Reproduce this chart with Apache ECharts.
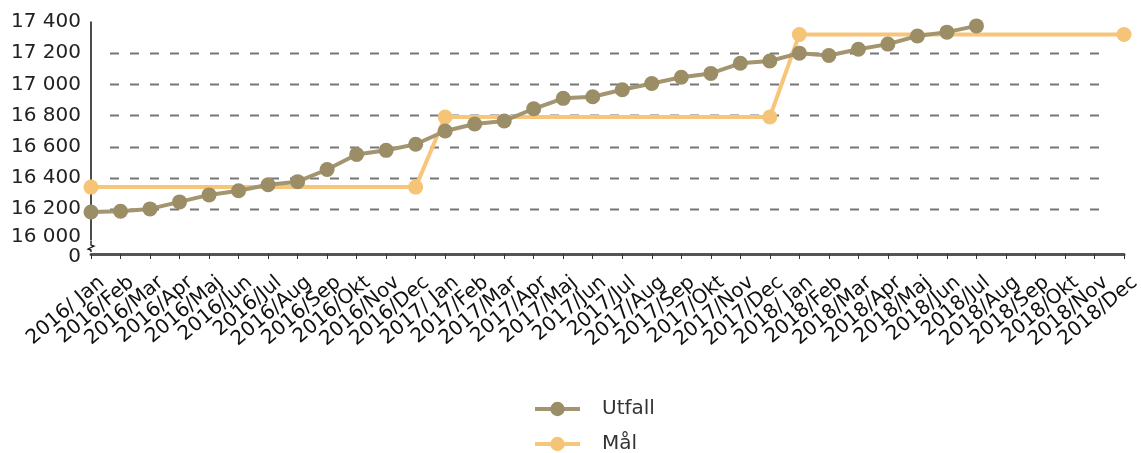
<!DOCTYPE html>
<html>
<head>
<meta charset="utf-8">
<script src="https://cdn.jsdelivr.net/npm/echarts@6/dist/echarts.min.js"></script>
<style>
html,body{margin:0;padding:0;background:#fff;}
#chart{width:1141px;height:453px;}
</style>
</head>
<body>
<div id="chart"></div>
<script>
var categories = [
  "2016/ Jan","2016/Feb","2016/Mar","2016/Apr","2016/Maj","2016/Jun","2016/Jul","2016/Aug","2016/Sep","2016/Okt","2016/Nov","2016/Dec",
  "2017/ Jan","2017/Feb","2017/Mar","2017/Apr","2017/Maj","2017/Jun","2017/Jul","2017/Aug","2017/Sep","2017/Okt","2017/Nov","2017/Dec",
  "2018/ Jan","2018/Feb","2018/Mar","2018/Apr","2018/Maj","2018/Jun","2018/Jul","2018/Aug","2018/Sep","2018/Okt","2018/Nov","2018/Dec"
];
var utfall = [
  16180,16185,16200,16245,16290,16317,16355,16375,16453,16550,16576,16615,
  16700,16745,16765,16843,16910,16920,16965,17005,17045,17070,17135,17150,
  17200,17185,17225,17258,17310,17335,17375,null,null,null,null,null
];
var mal = [
  16340,16340,16340,16340,16340,16340,16340,16340,16340,16340,16340,16340,
  16790,16790,16790,16790,16790,16790,16790,16790,16790,16790,16790,16790,
  17320,17320,17320,17320,17320,17320,17320,17320,17320,17320,17320,17320
];
var malMarkerIdx = [0,11,12,23,24,35];
var seriesNames = ["Utfall","Mål"];
var axisBreak = {start:0, end:16000};
var gridValues = [16200,16400,16600,16800,17000,17200];

var malData = mal.map(function(v,i){
  return malMarkerIdx.indexOf(i) >= 0 ? {value:v} : {value:v, symbol:'none'};
});

var chart = echarts.init(document.getElementById('chart'));
var font = 'DejaVu Sans';
var legendCommon = {
  orient:'vertical', left:533, padding:0,
  itemWidth:45, itemHeight:18,
  lineStyle:{width:4},
  textStyle:{fontSize:20,lineHeight:20,color:'#333',fontFamily:font,padding:[0,0,0,17]}
};
chart.setOption({
  animation:false,
  textStyle:{fontFamily:font},
  grid:{left:91,right:17,top:22,bottom:199,containLabel:false,outerBoundsMode:'none'},
  legend:[
    Object.assign({}, legendCommon, {top:399, data:[seriesNames[0]]}),
    Object.assign({}, legendCommon, {top:434, data:[seriesNames[1]]})
  ],
  xAxis:{
    type:'category',
    data:categories,
    boundaryGap:false,
    axisLine:{lineStyle:{color:'#555',width:3}},
    axisTick:{show:true,length:5,lineStyle:{color:'#333',width:1}},
    axisLabel:{rotate:40,fontSize:20,color:'#111',margin:13,fontFamily:font,interval:0,
      verticalAlign:'top',lineHeight:34},
    splitLine:{show:false}
  },
  yAxis:{
    type:'value',
    min:0, max:17400, interval:200,
    breaks:[{start:axisBreak.start,end:axisBreak.end,gap:'6%'}],
    breakArea:{show:false},
    axisLine:{show:true,lineStyle:{color:'#111',width:1.5}},
    axisTick:{show:false},
    axisLabel:{fontSize:20,color:'#222',margin:10,fontFamily:font,
      formatter:function(v){return String(v).replace(/\B(?=(\d{3})+(?!\d))/g,' ');}},
    splitLine:{show:false}
  },
  series:[
    {
      name:seriesNames[0], type:'line', data:utfall,
      symbol:'circle', symbolSize:15, showAllSymbol:true,
      lineStyle:{color:'#a39570',width:4},
      itemStyle:{color:'#9b8d65'},
      z:6
    },
    {
      name:seriesNames[1], type:'line', data:malData,
      symbol:'circle', symbolSize:15, showAllSymbol:true,
      lineStyle:{color:'#f8c67a',width:4},
      itemStyle:{color:'#f6c476'},
      z:5
    }
  ]
});

// decorations placed through the axis scales: dashed grid lines and the axis-break zigzag
var pTop = chart.convertToPixel({yAxisIndex:0}, axisBreak.end);
var pBot = chart.convertToPixel({yAxisIndex:0}, axisBreak.start);
var ax = chart.convertToPixel({xAxisIndex:0}, 0);
var axEnd = chart.convertToPixel({xAxisIndex:0}, categories.length - 1);
var graphics = [];
gridValues.forEach(function(v){
  var py = Math.round(chart.convertToPixel({yAxisIndex:0}, v)) + 0.5;
  graphics.push({type:'line', silent:true, z:-10,
    shape:{x1:ax+19, y1:py, x2:axEnd-22, y2:py},
    style:{stroke:'#777', lineWidth:1.8, lineDash:[9,11]}});
});
if (isFinite(pTop) && isFinite(pBot)) {
  var mid = (pTop + pBot) / 2;
  graphics.push({type:'rect', shape:{x:ax-3, y:pTop+1, width:6, height:pBot-pTop-3}, style:{fill:'#fff'}, z:100});
  graphics.push({type:'polyline', shape:{points:[[ax,pTop+1],[ax,mid-2],[ax+3,mid-1],[ax-3,mid+2],[ax,mid+3],[ax,pBot-2]]},
    style:{stroke:'#111',lineWidth:1.3,fill:null}, z:101});
}
chart.setOption({graphic:graphics});
</script>
</body>
</html>
